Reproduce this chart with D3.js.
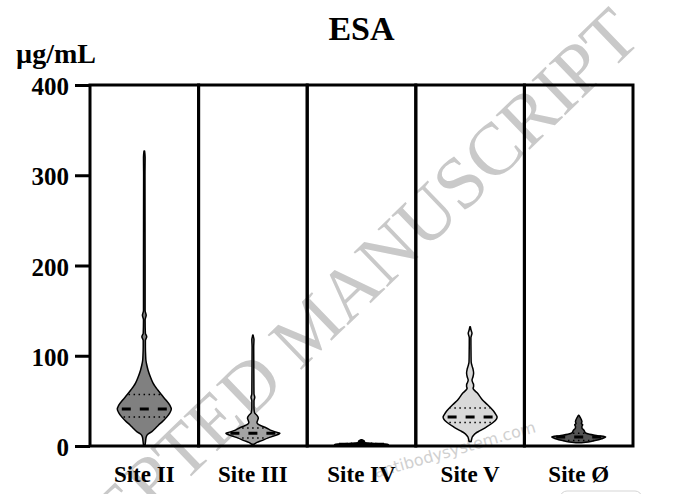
<!DOCTYPE html>
<html>
<head>
<meta charset="utf-8">
<script src="https://cdn.jsdelivr.net/npm/d3@7"></script>
<style>
  body { margin: 0; background: #fff; }
  svg { display: block; }
</style>
</head>
<body>
<div id="chart"></div>
<script>
// categories
const sites = ["Site II", "Site III", "Site IV", "Site V", "Site Ø"];
const yTicks = [0, 100, 200, 300, 400];

// violin density profiles: [value in µg/mL, relative density]
const profileII = [[1, 0.03], [6, 0.05], [10, 0.07], [13, 0.13], [16, 0.28], [20, 0.42], [23, 0.52],
  [27, 0.67], [32, 0.83], [37, 0.95], [41, 1.0], [45, 0.95], [51, 0.8], [57, 0.63], [62, 0.5],
  [66, 0.4], [70, 0.32], [77, 0.22], [84, 0.14], [90, 0.09], [95, 0.06], [100, 0.05], [110, 0.04],
  [117, 0.04], [121, 0.09], [125, 0.04], [140, 0.03], [145, 0.07], [150, 0.03], [200, 0.03],
  [300, 0.025], [320, 0.03], [327, 0.01]];
const profileIII = [[2, 0.05], [4, 0.15], [6, 0.33], [9, 0.57], [11, 0.77], [13, 0.95], [14, 1.0],
  [15, 0.9], [17, 0.7], [20, 0.5], [22, 0.34], [24, 0.2], [26, 0.15], [28, 0.17], [31, 0.2],
  [34, 0.15], [37, 0.06], [42, 0.04], [50, 0.04], [54, 0.07], [58, 0.04], [80, 0.035], [110, 0.03],
  [118, 0.04], [121, 0.02], [123, 0.005]];
const profileIV = [[0.2, 0.3], [1, 0.9], [1.8, 1.0], [2.6, 0.7], [3.3, 0.25], [4, 0.12], [5.5, 0.1],
  [6.5, 0.05], [7, 0.01]];
const profileV = [[5, 0.04], [8, 0.06], [10, 0.08], [12, 0.13], [14, 0.2], [17, 0.37], [21, 0.6],
  [26, 0.85], [30, 0.98], [32, 1.0], [35, 0.95], [39, 0.86], [43, 0.74], [47, 0.6], [51, 0.46],
  [55, 0.36], [59, 0.26], [62, 0.15], [64, 0.11], [66, 0.13], [68, 0.13], [70, 0.1], [73, 0.07],
  [77, 0.11], [81, 0.13], [85, 0.11], [89, 0.07], [93, 0.04], [100, 0.035], [120, 0.03],
  [125, 0.07], [128, 0.04], [132, 0.01]];
const profileO = [[3.5, 0.1], [4.5, 0.35], [6, 0.6], [8, 0.85], [10, 1.0], [11.5, 0.7], [13, 0.4],
  [14.5, 0.25], [16, 0.22], [18, 0.18], [20, 0.12], [22, 0.12], [23.5, 0.15], [25, 0.1],
  [27, 0.12], [29, 0.1], [31, 0.07], [33, 0.03], [34, 0.01]];

// summary lines
const medians = [41, 14, 2, 32, 10];
const quart1 = [32, 9, 1, 26, 6];
const quart3 = [57, 20, 3, 42, 14];

const profiles = [profileII, profileIII, profileIV, profileV, profileO];
const fillColors = ["#808080", "#a3a3a3", "#000000", "#d9d9d9", "#555555"];

const width = 674, height = 494;
const margin = {top: 85, right: 41, bottom: 48, left: 90};

const svg = d3.select("#chart").append("svg")
  .attr("width", width).attr("height", height);

const serif = "'Liberation Serif', 'Times New Roman', serif";

// watermarks (behind the chart)
svg.append("text")
  .attr("transform", "translate(643,40) rotate(-44)")
  .attr("text-anchor", "end")
  .style("font-family", serif)
  .style("font-size", "74px")
  .style("fill", "#c9c9c9")
  .text("ACCEPTED MANUSCRIPT");
svg.append("text")
  .attr("transform", "translate(376,478) rotate(-16)")
  .style("font-family", "'DejaVu Sans', sans-serif")
  .style("font-size", "16px")
  .style("fill", "#d0d0d0")
  .text("antibodysystem.com");
svg.append("rect")
  .attr("x", 560).attr("y", 491).attr("width", 82).attr("height", 24).attr("rx", 7)
  .attr("fill", "none").attr("stroke", "#d5d5d5");

const x = d3.scaleBand().domain(sites).range([margin.left, width - margin.right]);
const y = d3.scaleLinear().domain([0, 400]).range([height - margin.bottom, margin.top]);
const w = d3.scaleLinear().domain([0, 1]).range([0, 27]);
const color = d3.scaleOrdinal(sites, fillColors);

// half width of a violin at a value (linear between profile points)
function halfWidth(profile, v) {
  for (let i = 1; i < profile.length; i++) {
    if (v <= profile[i][0]) {
      let a = profile[i - 1], b = profile[i];
      let t = (v - a[0]) / (b[0] - a[0]);
      return w(a[1] + t * (b[1] - a[1]));
    }
  }
  return 0;
}

sites.forEach(function(site, i) {
  let cx = x(site) + x.bandwidth() / 2;
  let prof = profiles[i];
  let area = d3.area()
    .curve(d3.curveMonotoneY)
    .y(d => y(d[0]))
    .x0(d => cx - w(d[1]))
    .x1(d => cx + w(d[1]));
  svg.append("path")
    .datum(prof)
    .attr("d", area)
    .attr("fill", color(site))
    .attr("stroke", "#000")
    .attr("stroke-width", 1.5)
    .attr("stroke-linejoin", "round");

  // quartiles dotted
  [quart1[i], quart3[i]].forEach(function(q) {
    let hw = halfWidth(prof, q) - 1;
    svg.append("line")
      .attr("x1", cx - hw).attr("x2", cx + hw)
      .attr("y1", y(q)).attr("y2", y(q))
      .attr("stroke", "#000").attr("stroke-width", 1.5)
      .attr("stroke-dasharray", "1.5,3.5")
      .attr("stroke-dashoffset", 0.75 - hw);
  });
  // median dashed
  let hm = halfWidth(prof, medians[i]) - 1;
  svg.append("line")
    .attr("x1", cx - hm).attr("x2", cx + hm)
    .attr("y1", y(medians[i])).attr("y2", y(medians[i]))
    .attr("stroke", "#000").attr("stroke-width", 3)
    .attr("stroke-dasharray", "9,9")
    .attr("stroke-dashoffset", 4.5 - hm);
});

// panel frames
svg.append("g").selectAll("rect")
  .data(sites)
  .enter()
  .append("rect")
  .attr("x", d => x(d))
  .attr("y", margin.top)
  .attr("width", x.bandwidth())
  .attr("height", height - margin.bottom - margin.top)
  .attr("fill", "none")
  .attr("stroke", "#000")
  .attr("stroke-width", 3);

// y axis
const yAxis = svg.append("g")
  .attr("transform", "translate(" + margin.left + ",0)")
  .call(d3.axisLeft(y).tickValues(yTicks).tickSize(15).tickPadding(6));
yAxis.select(".domain").remove();
yAxis.selectAll("line").attr("stroke", "#000").attr("stroke-width", 3);
yAxis.selectAll("text")
  .attr("dy", "0.38em")
  .style("font-family", serif)
  .style("font-weight", "bold")
  .style("font-size", "25px")
  .style("fill", "#000");

// category labels
svg.append("g").selectAll("text")
  .data(sites)
  .enter()
  .append("text")
  .attr("x", d => x(d) + x.bandwidth() / 2)
  .attr("y", 482)
  .attr("text-anchor", "middle")
  .style("font-family", serif)
  .style("font-weight", "bold")
  .style("font-size", "23px")
  .text(d => d);

// title and unit
svg.append("text")
  .attr("x", (margin.left + width - margin.right) / 2)
  .attr("y", 40)
  .attr("text-anchor", "middle")
  .style("font-family", serif)
  .style("font-weight", "bold")
  .style("font-size", "34px")
  .text("ESA");
svg.append("text")
  .attr("x", 16)
  .attr("y", 63)
  .style("font-family", serif)
  .style("font-weight", "bold")
  .style("font-size", "28px")
  .text("µg/mL");
</script>
</body>
</html>
